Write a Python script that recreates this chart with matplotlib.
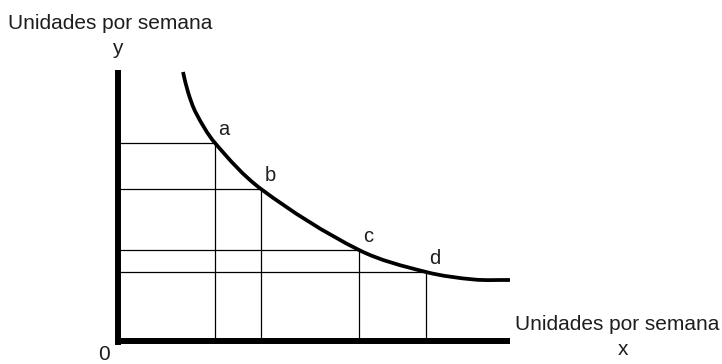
import matplotlib
matplotlib.use("Agg")
import numpy as np
import matplotlib.pyplot as plt
from matplotlib.path import Path
from matplotlib.patches import PathPatch

# Indifference-curve points (x = units per week, y = units per week)
curve_x = [6.5, 7.0, 7.8, 9.7, 14.3, 24.1, 30.8, 35.6, 39.2]
curve_y = [26.9, 24.9, 22.8, 19.8, 15.2, 9.1, 6.9, 6.15, 6.1]

# Labelled bundles on the curve
point_names = ["a", "b", "c", "d"]
point_x = [9.7, 14.3, 24.1, 30.8]
point_y = [19.8, 15.2, 9.1, 6.9]

axis_label = "Unidades por semana"
font = "Liberation Sans"
txt_color = "#1e1e1e"


def smooth_path(xs, ys):
    """Cubic Bezier path passing through every given point."""
    pts = np.column_stack([xs, ys]).astype(float)
    n = len(pts)
    tangents = []
    for i in range(n):
        a = pts[max(i - 1, 0)]
        b = pts[min(i + 1, n - 1)]
        d = b - a
        tangents.append(d / np.hypot(*d))
    verts = [tuple(pts[0])]
    codes = [Path.MOVETO]
    for i in range(n - 1):
        seg = np.hypot(*(pts[i + 1] - pts[i])) / 3.0
        c1 = pts[i] + tangents[i] * seg
        c2 = pts[i + 1] - tangents[i + 1] * seg
        verts += [tuple(c1), tuple(c2), tuple(pts[i + 1])]
        codes += [Path.CURVE4] * 3
    return Path(verts, codes)


fig = plt.figure(figsize=(7.22, 3.64), dpi=100)
ax = fig.add_axes([0, 0, 1, 1])
ax.set_xlim(-11.8, 60.4)
ax.set_ylim(-2.3, 34.1)
ax.axis("off")

# Axes drawn as thick lines
ax.plot([0, 0], [-0.4, 27.1], color="black", lw=4.3, solid_capstyle="butt")
ax.plot([-0.3, 39.2], [0, 0], color="black", lw=4.3, solid_capstyle="butt")

# Guide lines from each bundle to both axes
for px, py in zip(point_x, point_y):
    ax.plot([0, px], [py, py], color="black", lw=0.9)
    ax.plot([px, px], [0, py], color="black", lw=0.9)

# The curve
ax.add_patch(PathPatch(smooth_path(curve_x, curve_y), facecolor="none",
                       edgecolor="black", lw=2.7, capstyle="butt"))

# Point labels
for name, px, py in zip(point_names, point_x, point_y):
    ax.text(px + 0.9, py + 0.8, name, fontsize=14.5, family=font, color=txt_color,
            ha="center", va="baseline")

# Axis titles
ax.text(-11.0, 31.2, axis_label, fontsize=15, family=font, color=txt_color,
        ha="left", va="baseline")
ax.text(-0.1, 28.7, "y", fontsize=15, family=font, color=txt_color,
        ha="center", va="baseline")
ax.text(39.7, 1.1, axis_label, fontsize=15, family=font, color=txt_color,
        ha="left", va="baseline")
ax.text(50.5, -1.4, "x", fontsize=15, family=font, color=txt_color,
        ha="center", va="baseline")
ax.text(-1.4, -1.9, "0", fontsize=15, family=font, color=txt_color,
        ha="center", va="baseline")

fig.savefig("out.png", dpi=100)
